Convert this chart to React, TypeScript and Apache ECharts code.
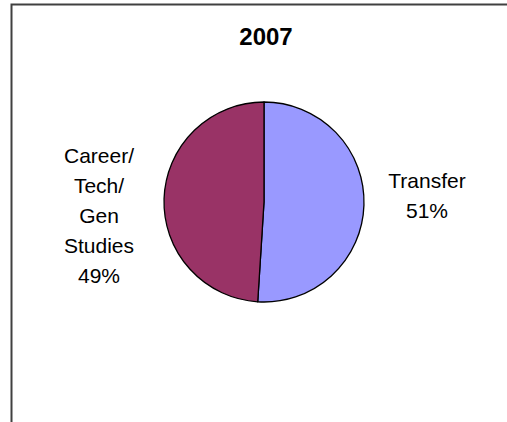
import React, { useEffect, useRef } from "react";
import * as echarts from "echarts";

const title = "2007";
const categories = ["Transfer", "Career/\nTech/\nGen\nStudies"];
const values = [51, 49];
const colors = ["#9999FF", "#993366"];

const FONT = "'Liberation Sans', Arial, sans-serif";

export default function App() {
  const ref = useRef<HTMLDivElement>(null);
  useEffect(() => {
    if (!ref.current) return;
    const chart = echarts.init(ref.current, null, { renderer: "svg" });
    const cx = 264;
    const cy = 202;
    chart.setOption({
      animation: false,
      backgroundColor: "#ffffff",
      title: {
        text: title,
        left: 261,
        top: 19,
        textAlign: "center",
        textStyle: { fontFamily: FONT, fontSize: 24, fontWeight: "bold", color: "#000" },
      },
      graphic: [
        {
          type: "rect",
          shape: { x: 11.5, y: 4.5, width: 520, height: 440 },
          style: { fill: "none", stroke: "#404040", lineWidth: 2 },
          silent: true,
        },
      ],
      series: [
        {
          type: "pie",
          center: [cx, cy],
          radius: 100,
          startAngle: 90,
          clockwise: true,
          data: categories.map((c, i) => ({
            name: c,
            value: values[i],
            itemStyle: { color: colors[i] },
          })),
          itemStyle: { borderColor: "#000", borderWidth: 1.3 },
          label: {
            show: true,
            position: "outside",
            formatter: "{b}\n{d}%",
            fontFamily: FONT,
            fontSize: 21,
            lineHeight: 30,
            color: "#000",
            align: "center",
          },
          labelLine: { show: false },
          labelLayout: (p: any) =>
            p.dataIndex === 0
              ? { x: cx + 163, y: cy - 7, align: "center", verticalAlign: "middle" }
              : { x: cx - 165, y: cy + 13, align: "center", verticalAlign: "middle" },
          emphasis: { disabled: true },
        },
      ],
    });
    return () => chart.dispose();
  }, []);
  return (
    <div
      ref={ref}
      style={{ position: "fixed", left: 0, top: 0, width: 507, height: 422 }}
    />
  );
}
